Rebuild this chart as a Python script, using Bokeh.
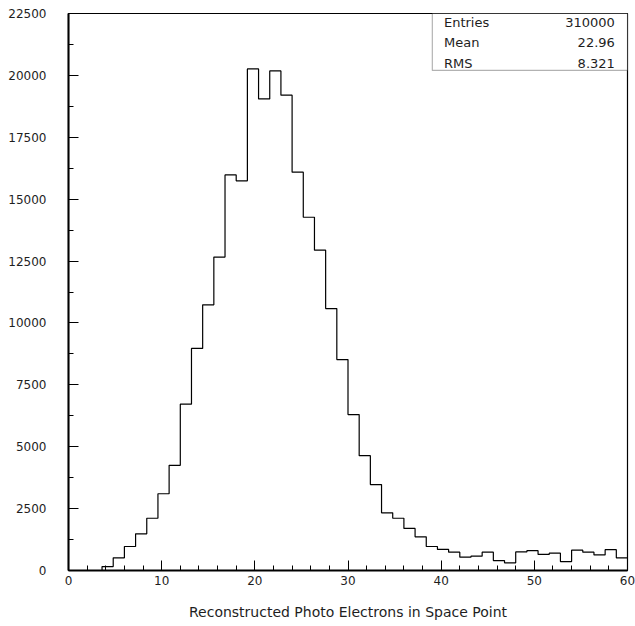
import numpy as np
from bokeh.plotting import figure
from bokeh.models import Range1d, FixedTicker, BoxAnnotation, Label
from bokeh.embed import file_html
from bokeh.resources import INLINE

# Histogram: 50 bins of width 1.2 spanning 0..60
bin_low = 0.0
bin_high = 60.0
n_bins = 50
counts = [
    0, 0, 0, 160, 510, 970, 1480, 2110, 3100, 4250,
    6720, 8970, 10730, 12660, 15980, 15740, 20260, 19050, 20180, 19200,
    16090, 14270, 12940, 10580, 8520, 6300, 4640, 3470, 2330, 2110,
    1700, 1360, 970, 850, 740, 540, 580, 740, 400, 310,
    750, 800, 650, 700, 360, 820, 740, 630, 840, 510,
]

# Statistics box
stat_names = ["Entries", "Mean", "RMS"]
stat_values = ["310000", "22.96", "8.321"]

x_major = [0, 10, 20, 30, 40, 50, 60]
x_minor = list(range(0, 61, 2))
y_major = list(range(0, 22501, 2500))
y_minor = list(range(0, 22501, 1250))

x_title = "Reconstructed Photo Electrons in Space Point"

FONT = "DejaVu Sans"
TXT = "#1e1e1e"

edges = np.linspace(bin_low, bin_high, n_bins + 1)
step_y = np.append(np.asarray(counts, dtype=float), counts[-1])

p = figure(
    width=635, height=626,
    x_range=Range1d(bin_low, bin_high),
    y_range=Range1d(0, 22500),
    output_backend="svg", toolbar_location=None,
    min_border_left=68, min_border_right=8,
    min_border_top=13, min_border_bottom=56,
)
p.background_fill_color = "white"
p.border_fill_color = "white"
p.outline_line_color = "black"
p.outline_line_width = 1.2
p.xgrid.visible = False
p.ygrid.visible = False

p.step(x=edges, y=step_y, mode="after", line_color="black", line_width=1.2)

for ax in (p.xaxis[0], p.yaxis[0]):
    ax.axis_line_color = "black"
    ax.axis_line_width = 2
    ax.major_tick_in = 10
    ax.major_tick_out = 0
    ax.minor_tick_in = 5
    ax.minor_tick_out = 0
    ax.major_tick_line_color = "black"
    ax.minor_tick_line_color = "black"
    ax.major_label_text_font = FONT
    ax.major_label_text_font_size = "12px"
    ax.major_label_text_color = TXT

p.xaxis.ticker = FixedTicker(ticks=x_major, minor_ticks=x_minor)
p.yaxis.ticker = FixedTicker(ticks=y_major, minor_ticks=y_minor)
p.xaxis.major_label_standoff = 5
p.yaxis.major_label_standoff = 22

p.xaxis.axis_label = x_title
p.xaxis.axis_label_text_font = FONT
p.xaxis.axis_label_text_font_size = "14px"
p.xaxis.axis_label_text_font_style = "normal"
p.xaxis.axis_label_text_color = TXT
p.xaxis.axis_label_standoff = 16

# Stats box in the upper-right corner
box_left = 39.05
box_bottom = 20200
p.add_layout(BoxAnnotation(left=box_left, right=bin_high, bottom=box_bottom, top=22500,
                           fill_color="white", fill_alpha=1.0,
                           line_color="black", line_width=1.2, level="overlay"))
box_h = 22500 - box_bottom
row_frac = [0.155, 0.51, 0.87]
for name, val, f in zip(stat_names, stat_values, row_frac):
    yc = 22500 - box_h * f
    p.add_layout(Label(x=box_left + 1.25, y=yc, text=name, text_font=FONT,
                       text_font_size="13px", text_color=TXT,
                       text_align="left", text_baseline="middle", level="overlay"))
    p.add_layout(Label(x=bin_high - 1.36, y=yc, text=val, text_font=FONT,
                       text_font_size="13px", text_color=TXT,
                       text_align="right", text_baseline="middle", level="overlay"))

open("out.html", "w").write(file_html(p, INLINE))
